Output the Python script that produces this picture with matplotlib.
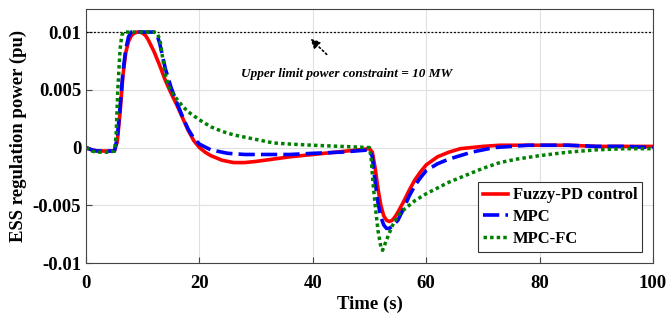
import numpy as np
import matplotlib
matplotlib.use("Agg")
import matplotlib.pyplot as plt

plt.rcParams['font.family'] = ['Liberation Serif', 'DejaVu Serif']
plt.rcParams['font.weight'] = 'bold'

# Fuzzy-PD control
t_fpd = [0, 1, 2, 3, 4, 5, 5.5, 6, 6.5, 7, 7.5, 8, 8.5, 9, 9.5, 10, 10.5, 11, 12, 13,
         14, 15, 16, 17, 18, 19, 20, 21, 22, 24, 26, 28, 30, 33, 36, 40, 44, 48, 50,
         50.5, 51, 51.5, 52, 52.5, 53, 53.5, 54, 54.5, 55, 56, 57, 58, 59, 60, 62, 64,
         66, 68, 70, 73, 76, 80, 85, 90, 95, 100]
p_fpd = [0, -0.0002, -0.0003, -0.0003, -0.0003, -0.0003, 0.0005, 0.0030, 0.0062, 0.0082,
         0.0092, 0.0097, 0.0099, 0.0100, 0.0100, 0.0099, 0.0097, 0.0093, 0.0083, 0.0071,
         0.0058, 0.0047, 0.0037, 0.0026, 0.0015, 0.0006, 0.0000, -0.0004, -0.0007, -0.0011,
         -0.0013, -0.0013, -0.0012, -0.0010, -0.0008, -0.0006, -0.0004, -0.0002, -0.0001,
         -0.0004, -0.0018, -0.0036, -0.0050, -0.0059, -0.0063, -0.0064, -0.0063, -0.0060,
         -0.0056, -0.0047, -0.0037, -0.0028, -0.0021, -0.0015, -0.0008, -0.0004,
         -0.0001, 0.0000, 0.0001, 0.0002, 0.0002, 0.0002, 0.0002, 0.0001, 0.0001, 0.0001]

# MPC
t_mpc = [0, 1, 2, 3, 4, 5, 5.5, 6, 6.5, 7, 7.5, 8, 9, 10, 11, 12, 12.5, 13, 14, 15, 16,
         17, 18, 19, 20, 22, 25, 28, 32, 36, 40, 45, 50, 50.5, 51, 51.5, 52, 52.5, 53,
         53.5, 54, 55, 56, 57, 58, 59, 60, 62, 64, 66, 68, 70, 72, 75, 78, 80, 85, 90,
         95, 100]
p_mpc = [0, -0.0002, -0.0003, -0.0003, -0.0003, -0.0003, 0.0008, 0.0035, 0.0065, 0.0085,
         0.0096, 0.0100, 0.0100, 0.0100, 0.0100, 0.0100, 0.0098, 0.0090, 0.0068, 0.0052,
         0.0039, 0.0027, 0.0016, 0.0008, 0.0003, -0.0002, -0.0005, -0.0006, -0.0006,
         -0.0006, -0.0005, -0.0004, -0.0002, -0.0008, -0.0030, -0.0048, -0.0060, -0.0067,
         -0.0070, -0.0070, -0.0068, -0.0063, -0.0053, -0.0042, -0.0033, -0.0026, -0.0020,
         -0.0014, -0.0010, -0.0007, -0.0004, -0.0002, 0.0000, 0.0001, 0.0002, 0.0002,
         0.0002, 0.0001, 0.0001, 0.0000]

# MPC-FC
t_fc = [0, 1, 2, 3, 4, 5, 5.3, 5.6, 6, 6.3, 6.6, 7, 8, 9, 10, 11, 12, 12.5, 13, 13.5, 14,
        14.5, 15, 16, 17, 18, 20, 22, 24, 26, 28, 30, 33, 36, 40, 45, 50, 50.3, 50.6, 51,
        51.5, 52, 52.3, 53, 54, 55, 56, 57, 58, 60, 62, 64, 66, 68, 70, 73, 76, 80, 85,
        90, 95, 100]
p_fc = [0, -0.0003, -0.0004, -0.0004, -0.0004, -0.0003, 0.0010, 0.0050, 0.0085, 0.0097,
        0.0100, 0.0100, 0.0100, 0.0100, 0.0100, 0.0100, 0.0100, 0.0099, 0.0094, 0.0078,
        0.0063, 0.0054, 0.0049, 0.0042, 0.0036, 0.0031, 0.0024, 0.0018, 0.0014, 0.0011,
        0.0009, 0.0007, 0.0004, 0.0003, 0.0002, 0.0001, 0.0000, -0.0010, -0.0030, -0.0050,
        -0.0072, -0.0086, -0.0089, -0.0080, -0.0068, -0.0059, -0.0054, -0.0050, -0.0046,
        -0.0040, -0.0035, -0.0030, -0.0026, -0.0022, -0.0018, -0.0013, -0.0010, -0.0007,
        -0.0004, -0.0002, -0.0001, -0.0001]

p_limit = 0.01

fig = plt.figure(figsize=(6.67, 3.2), dpi=100)
ax = fig.add_axes([0.129, 0.178, 0.850, 0.794])

ax.axhline(p_limit, color='k', ls=(0, (1.5, 1.5)), lw=0.9)
ax.plot(t_fpd, p_fpd, color='red', lw=2.6, label='Fuzzy-PD control')
ax.plot(t_mpc, p_mpc, color='blue', lw=2.6, ls=(0, (4.5, 1.7)), label='MPC')
ax.plot(t_fc, p_fc, color='green', lw=2.5, ls=(0, (1, 0.9)), label='MPC-FC')

ax.annotate('', xy=(39.2, 0.0096), xytext=(42.8, 0.0079),
            arrowprops=dict(arrowstyle='-|>', color='k', ls=':', lw=1.2, mutation_scale=14))
ax.text(46.0, 0.0064, 'Upper limit power constraint = 10 MW', ha='center', va='center',
        fontsize=9.5, style='italic', fontweight='bold')

ax.set_xlim(0, 100)
ax.set_ylim(-0.01, 0.012)
ax.set_xticks([0, 20, 40, 60, 80, 100])
ax.set_yticks([-0.01, -0.005, 0, 0.005, 0.01])
ax.set_yticklabels(['-0.01', '-0.005', '0', '0.005', '0.01'])
ax.tick_params(labelsize=13.5, direction='in', length=4, color='#444444')
ax.tick_params(axis='x', pad=8.5)
ax.grid(True, color='#e0e0e0', lw=0.8)
for s in ax.spines.values():
    s.set_color('#444444')
    s.set_linewidth(0.8)

ax.set_xlabel('Time (s)', fontsize=13.5, fontweight='bold', labelpad=3)
ax.set_ylabel('ESS regulation power (pu)', fontsize=13.5, fontweight='bold')

leg = ax.legend(loc='lower right', fontsize=12, handlelength=1.5, handletextpad=0.3,
                borderpad=0.3, labelspacing=0.35, fancybox=False, framealpha=1,
                edgecolor='#333333', borderaxespad=0, bbox_to_anchor=(0.981, 0.043))
leg.get_frame().set_linewidth(0.8)

fig.savefig('out.png', dpi=100)
